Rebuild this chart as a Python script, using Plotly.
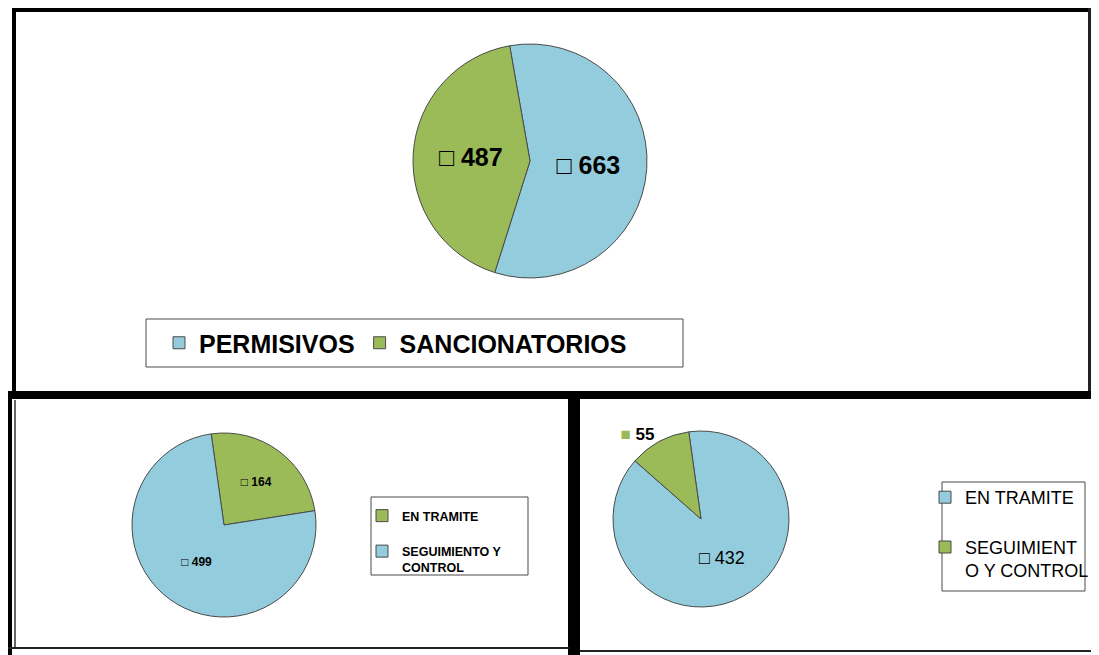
import plotly.graph_objects as go

# the page body keeps an 8px margin, so the figure is drawn 8px in from the
# top-left corner of the window; all positions below are window pixels
OFF = 8
W, H = 1099 - OFF, 655 - OFF

BLUE = "#93CDDD"
GREEN = "#9BBB59"
EDGE = "#4a4a4a"

# top chart
top_labels = ["PERMISIVOS", "SANCIONATORIOS"]
top_values = [663, 487]

# bottom left chart
left_labels = ["EN TRAMITE<br> ", "SEGUIMIENTO Y<br>CONTROL"]
left_values = [164, 499]

# bottom right chart (trailing space keeps its legend apart from the left one)
right_labels = ["EN TRAMITE <br> ", "SEGUIMIENT<br>O Y CONTROL"]
right_values = [432, 55]


def X(x):
    return (x - OFF) / W


def Y(y):
    return 1 - (y - OFF) / H


def dom(cx, cy, r):
    """Pie domain from a centre and radius in window pixels."""
    return dict(x=[X(cx - r), X(cx + r)], y=[Y(cy + r), Y(cy - r)])


def px_line(x0, y0, x1, y1, width, color="black"):
    return dict(type="line", xref="paper", yref="paper",
                x0=X(x0), y0=Y(y0), x1=X(x1), y1=Y(y1),
                line=dict(color=color, width=width))


def px_box(x0, y0, x1, y1):
    return dict(type="rect", xref="paper", yref="paper",
                x0=X(x0), y0=Y(y0), x1=X(x1), y1=Y(y1),
                line=dict(color=EDGE, width=1))


fig = go.Figure()

fig.add_trace(go.Pie(
    labels=top_labels, values=top_values,
    sort=False, direction="clockwise", rotation=-10,
    marker=dict(colors=[BLUE, GREEN], line=dict(color=EDGE, width=1)),
    texttemplate="□ %{value}", textposition="inside",
    insidetextorientation="horizontal",
    textfont=dict(family="Arial", size=25, color="black", weight="bold"),
    domain=dom(530, 161, 117), legend="legend",
))

fig.add_trace(go.Pie(
    labels=left_labels, values=left_values,
    sort=False, direction="clockwise", rotation=-8,
    marker=dict(colors=[GREEN, BLUE], line=dict(color=EDGE, width=1)),
    texttemplate="□ %{value}", textposition="inside",
    insidetextorientation="horizontal",
    textfont=dict(family="Arial", size=12, color="black", weight="bold"),
    domain=dom(224, 525, 92), legend="legend2",
))

fig.add_trace(go.Pie(
    labels=right_labels, values=right_values,
    sort=False, direction="clockwise", rotation=-8,
    marker=dict(colors=[BLUE, GREEN], line=dict(color=EDGE, width=1)),
    texttemplate=["□ %{value}",
                  "<b><span style='color:" + GREEN + "'>■</span> %{value}</b>"],
    textposition=["inside", "outside"],
    insidetextorientation="horizontal",
    textfont=dict(family="Arial", size=[18, 17], color="black"),
    domain=dom(701, 519, 88), legend="legend3",
))

shapes = [
    # top panel
    px_line(12, 9.5, 1091, 9.5, 5),
    px_line(14, 8, 14, 396, 4),
    px_line(1089.5, 8, 1089.5, 396, 3, "#222"),
    px_line(8, 395, 1091, 395, 8),
    # bottom left panel
    px_line(10, 392, 10, 655, 4),
    px_line(15, 400, 15, 647, 1.5, "#333"),
    px_line(574, 391, 574, 655, 12),
    px_line(8, 648, 569, 648, 2, "#222"),
    # bottom right panel
    px_line(580, 651, 1099, 651, 2, "#222"),
    # legend frames
    px_box(146, 319, 683, 367),
    px_box(371, 497, 528, 575),
    px_box(942, 482, 1085, 591),
]

fig.update_layout(
    width=W, height=H,
    margin=dict(l=0, r=0, t=0, b=0),
    paper_bgcolor="white", plot_bgcolor="white",
    shapes=shapes,
    legend=dict(
        orientation="h", x=X(159), xanchor="left", y=Y(343), yanchor="middle",
        borderwidth=0, bgcolor="rgba(0,0,0,0)",
        font=dict(family="Arial", size=25, color="black", weight="bold"),
        traceorder="normal",
    ),
    legend2=dict(
        x=X(362), xanchor="left", y=Y(501), yanchor="top",
        borderwidth=0, bgcolor="rgba(0,0,0,0)",
        font=dict(family="Arial", size=12.5, color="black", weight="bold"),
        traceorder="normal", valign="top",
    ),
    legend3=dict(
        x=X(925), xanchor="left", y=Y(479), yanchor="top",
        borderwidth=0, bgcolor="rgba(0,0,0,0)",
        font=dict(family="Arial", size=18, color="black"),
        traceorder="normal", valign="top",
    ),
)

fig.write_html("out.html")
